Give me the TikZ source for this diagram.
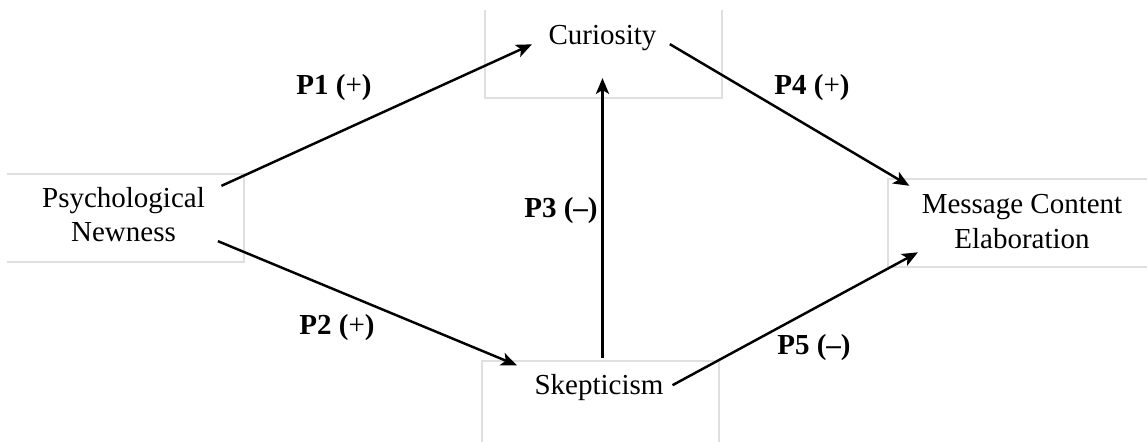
\documentclass[tikz,border=0pt]{standalone}
\usepackage{fontspec}
\setmainfont{Liberation Serif}
\usepackage{tikz}
\usetikzlibrary{arrows.meta, positioning}

\begin{document}
\begin{tikzpicture}[x=0.02cm, y=-0.02cm,
	concept/.style={align=center, inner sep=2pt, font=\fontsize{16.5}{19.5}\selectfont},
	plabel/.style={anchor=base, inner sep=0pt, font=\fontsize{16.5}{19.5}\selectfont},
	frame/.style={draw=gray!25, line width=0.6pt},
	link/.style={-{Stealth[length=9pt, width=7.5pt, inset=2.2pt]}, line width=1.4pt}]
	% Frames, nodes and links:
	\useasboundingbox (0, 0) rectangle (1147, 442);
	\draw[frame] (7, 174) -| (244, 262) -- (7, 262);
	\draw[frame] (485, 10) |- (722, 98) -- (722, 10);
	\draw[frame] (482, 442) |- (719, 361) -- (719, 442);
	\draw[frame] (1147, 179) -| (888, 267) -- (1147, 267);
	\node[concept] (pn) at (123.5, 214.5) {Psychological\\Newness};
	\node[concept, anchor=base] (cur) at (602.5, 45) {Curiosity};
	\node[concept, anchor=base] (sk) at (599, 395) {Skepticism};
	\node[concept] (mce) at (1022, 221.6) {Message Content\\Elaboration};
	\node[plabel] (p1) at (334, 95) {\textbf{P1 (}+\textbf{)}};
	\node[plabel] (p2) at (337, 335) {\textbf{P2 (}+\textbf{)}};
	\node[plabel] (p3) at (561, 218) {\textbf{P3 (--)}};
	\node[plabel] (p4) at (812, 95) {\textbf{P4 (}+\textbf{)}};
	\node[plabel] (p5) at (814, 355) {\textbf{P5 (--)}};
	\draw[link, shorten <=0.28cm, shorten >=0.28cm] (pn.15) -- (cur.west);
	\draw[link, shorten <=0.2cm, shorten >=0.3cm] (pn.-15) -- (sk.north west);
	\draw[link, shorten <=0.27cm, shorten >=0.46cm] (cur.south |- sk.north) -- (cur.south);
	\draw[link, shorten <=0.22cm, shorten >=0.2cm] (cur.east) -- (mce.north west);
	\draw[link, shorten <=0.12cm] (sk.east) -- (mce.south west);
\end{tikzpicture}
\end{document}
